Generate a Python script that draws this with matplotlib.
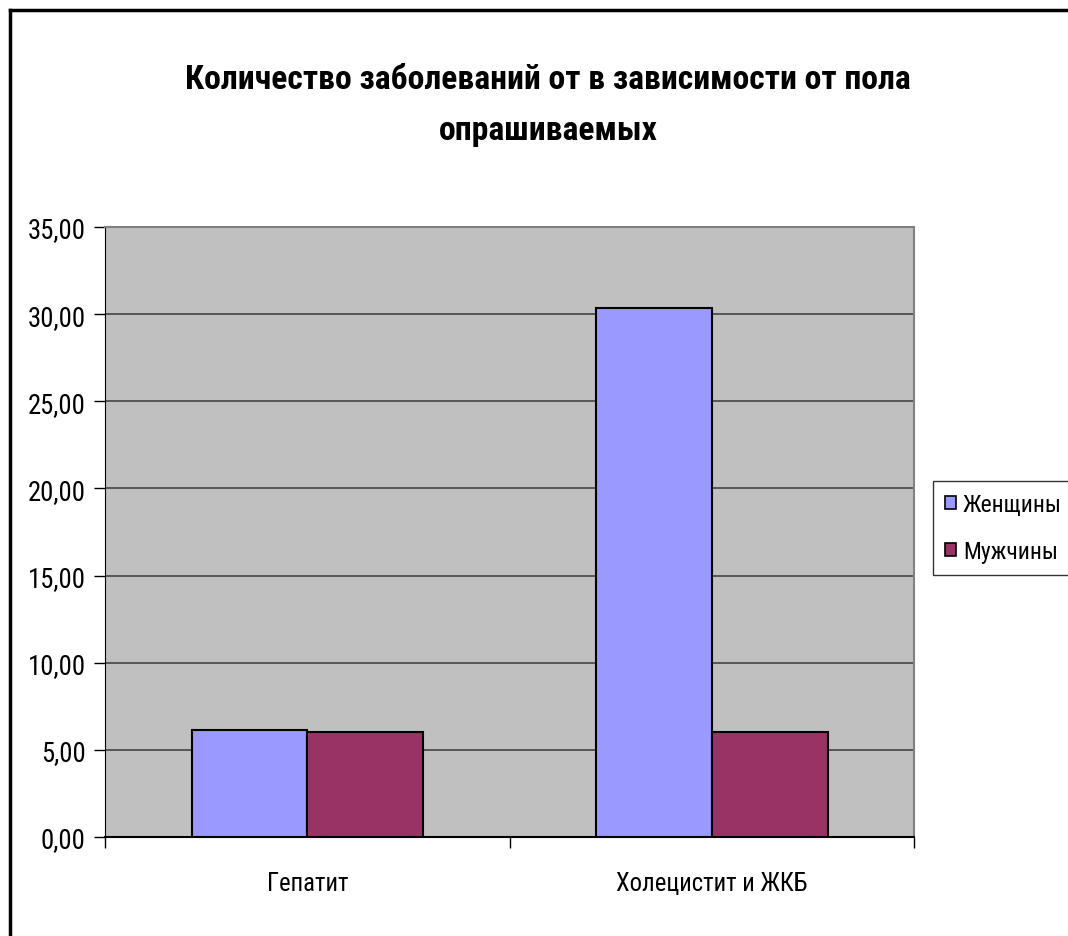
import matplotlib
matplotlib.use("Agg")
import matplotlib.pyplot as plt
from matplotlib import font_manager
from matplotlib.lines import Line2D
import numpy as np

categories = ["Гепатит", "Холецистит и ЖКБ"]
women = [6.15, 30.35]
men = [6.05, 6.05]
series_names = ["Женщины", "Мужчины"]
y_ticks = [0, 5, 10, 15, 20, 25, 30, 35]
title_lines = ["Количество заболеваний от в зависимости от пола", "опрашиваемых"]


def pick_font():
    # prefer a condensed face, the original looks squeezed
    for fam in ["Liberation Sans Narrow", "Roboto Condensed", "Open Sans Condensed",
                "Noto Sans Condensed", "Arial Narrow"]:
        try:
            font_manager.findfont(font_manager.FontProperties(family=fam),
                                  fallback_to_default=False)
            return fam, "normal"
        except ValueError:
            pass
    for fam in ["Noto Sans", "Open Sans", "Roboto"]:
        p = font_manager.findfont(font_manager.FontProperties(family=fam, stretch="condensed"))
        if "ondensed" in p:
            return fam, "condensed"
    return "Liberation Sans", "normal"


FAM, STRETCH = pick_font()
plt.rcParams["font.family"] = [FAM, "DejaVu Sans"]
plt.rcParams["font.stretch"] = STRETCH

fig = plt.figure(figsize=[10.68, 9.37], dpi=100)
ax = fig.add_axes([0.0983, 0.1057, 0.7577, 0.651])
ax.set_facecolor("#C0C0C0")
renderer = fig.canvas.get_renderer()


def fit(t, width_px):
    w = t.get_window_extent(renderer).width
    t.set_fontsize(t.get_fontsize() * width_px / w)
    return t.get_fontsize()


x = np.arange(len(categories))
w = 0.286
b1 = ax.bar(x - w / 2, women, w, color="#9999FF", edgecolor="black", linewidth=1.5, zorder=3)
b2 = ax.bar(x + w / 2, men, w, color="#993366", edgecolor="black", linewidth=1.5, zorder=3)

ax.set_xlim(-0.5, len(categories) - 0.5)
ax.set_ylim(0, 35)
ax.set_yticks(y_ticks)
ylabels = ax.set_yticklabels([f"{v:.2f}".replace(".", ",") for v in y_ticks], fontsize=20)
ax.yaxis.grid(True, color="#444444", linewidth=1.2, zorder=1)
ax.set_axisbelow(True)

ax.set_xticks(x)
xlabels = ax.set_xticklabels(categories, fontsize=20)
ax.set_xticks(np.arange(len(categories) + 1) - 0.5, minor=True)
ax.tick_params(axis="x", which="minor", length=8, width=1, direction="out")
ax.tick_params(axis="y", length=8, width=1, direction="out", pad=6)

# sizes matched to the widths measured on the original
tick_fs = fit(ylabels[-1], 58)
for t in ylabels:
    t.set_fontsize(tick_fs)
cat_fs = fit(xlabels[1], 192)
for t in xlabels:
    t.set_fontsize(cat_fs)
ax.tick_params(axis="x", which="major", length=0, pad=37 - cat_fs * 0.7)

ax.spines["left"].set_color("black")
ax.spines["bottom"].set_color("black")
ax.spines["bottom"].set_linewidth(1.5)
ax.spines["top"].set_color("#808080")
ax.spines["right"].set_color("#808080")
ax.spines["top"].set_linewidth(1.5)
ax.spines["right"].set_linewidth(1.5)

t1 = fig.text(0.513, 1 - 80 / 937, title_lines[0], ha="center", va="center",
              fontsize=26, fontweight="bold")
fs = fit(t1, 727)
t2 = fig.text(0.513, 1 - 131 / 937, title_lines[1], ha="center", va="center",
              fontsize=fs, fontweight="bold")

# legend text size so that the longer label ends just inside the picture
tmp = fig.text(0, 0, series_names[0], fontsize=20)
leg_fs = min(fit(tmp, 99), tick_fs)
tmp.remove()
px = leg_fs * 100 / 72
leg = fig.legend([b1, b2], series_names, loc="upper left",
                 bbox_to_anchor=(933 / 1068, 1 - 482 / 937), fontsize=leg_fs,
                 frameon=True, fancybox=False, edgecolor="black",
                 handlelength=11 / px, handleheight=11 / px,
                 handletextpad=7 / px, labelspacing=48 / px - 1,
                 borderpad=12 / px, borderaxespad=0)
leg.get_frame().set_linewidth(1.0)
for p in leg.get_patches():
    p.set_linewidth(1.2)

# outer chart frame (left and top edges visible)
fig.add_artist(Line2D([0.0094, 0.0094], [0, 0.988], color="black", linewidth=2.5,
                      transform=fig.transFigure))
fig.add_artist(Line2D([0.0094, 1.0], [0.988, 0.988], color="black", linewidth=2.5,
                      transform=fig.transFigure))

fig.savefig("out.png", dpi=100)
plt.close()
